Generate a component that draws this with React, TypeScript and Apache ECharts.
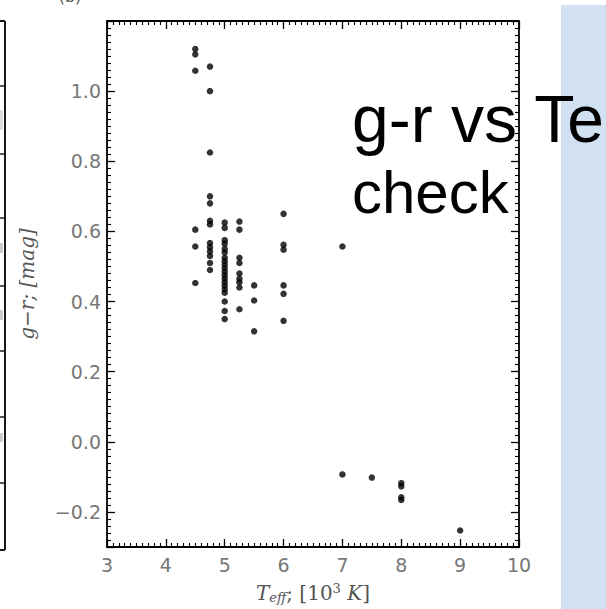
import React, { useEffect, useRef } from "react";
import * as echarts from "echarts";

// Effective temperature (10^3 K) and g−r colour (mag) of each star
const tempK = [
  4.5, 4.5, 4.5, 4.5, 4.5, 4.5,
  4.75, 4.75, 4.75, 4.75, 4.75, 4.75, 4.75, 4.75, 4.75, 4.75, 4.75, 4.75, 4.75,
  5, 5, 5, 5, 5, 5, 5, 5, 5, 5, 5, 5, 5, 5, 5, 5, 5, 5, 5, 5,
  5.25, 5.25, 5.25, 5.25, 5.25, 5.25, 5.25, 5.25, 5.25,
  5.5, 5.5, 5.5,
  6, 6, 6, 6, 6, 6,
  7, 7,
  7.5,
  8, 8, 8, 8,
  9,
];
const grMag = [
  1.12, 1.105, 1.058, 0.605, 0.557, 0.453,
  1.07, 1.0, 0.825, 0.7, 0.68, 0.63, 0.62, 0.567, 0.555, 0.543, 0.53, 0.51, 0.49,
  0.625, 0.61, 0.575, 0.565, 0.55, 0.54, 0.525, 0.515, 0.505, 0.495, 0.485, 0.475, 0.465, 0.455, 0.445, 0.435, 0.425, 0.4, 0.373, 0.35,
  0.628, 0.605, 0.525, 0.51, 0.48, 0.465, 0.455, 0.44, 0.378,
  0.446, 0.403, 0.315,
  0.65, 0.562, 0.548, 0.446, 0.422, 0.345,
  0.557, -0.093,
  -0.102,
  -0.118, -0.127, -0.158, -0.166,
  -0.253,
];

const xRange = [3, 10];
const yRange = [-0.3, 1.2];

// Tick rows of the neighbouring panel's right edge
const neighbourTicks = [86, 154, 218, 286, 351, 417, 483];

const AXIS_COLOR = "#000";
const LABEL_COLOR = "#777";
const NAME_COLOR = "#555";

function fmtY(v: number): string {
  const k = v / 0.2;
  if (Math.abs(k - Math.round(k)) > 1e-6) return "";
  return v.toFixed(1).replace("-", "\u2212");
}

function baseAxis(show: boolean) {
  return {
    axisLine: { show: true, onZero: false, lineStyle: { color: AXIS_COLOR, width: 1.8 } },
    axisTick: { show: true, inside: true, length: 8, lineStyle: { color: AXIS_COLOR, width: 1.3 } },
    minorTick: { show: true, splitNumber: 10, length: 4, lineStyle: { color: AXIS_COLOR, width: 1.1 } },
    splitLine: { show: false },
    minorSplitLine: { show: false },
    axisLabel: {
      show,
      color: LABEL_COLOR,
      fontFamily: "DejaVu Sans",
      fontSize: 19,
    },
  };
}

export default function App() {
  const ref = useRef<HTMLDivElement>(null);

  useEffect(() => {
    if (!ref.current) return;
    const chart = echarts.init(ref.current, undefined, { renderer: "svg" });
    const points = tempK.map((t, i) => [t, grMag[i]]);

    const neighbourGraphics: any[] = [
      { type: "line", shape: { x1: 5, y1: 21, x2: 5, y2: 550 }, style: { stroke: "#000", lineWidth: 1.8 } },
      { type: "line", shape: { x1: 0, y1: 21, x2: 5, y2: 21 }, style: { stroke: "#000", lineWidth: 1.8 } },
      { type: "line", shape: { x1: 0, y1: 550, x2: 5, y2: 550 }, style: { stroke: "#000", lineWidth: 1.8 } },
      ...neighbourTicks.map((y) => ({
        type: "line",
        shape: { x1: 0, y1: y, x2: 5, y2: y },
        style: { stroke: "#000", lineWidth: 1.3 },
      })),
      { type: "rect", shape: { x: 0, y: 110, width: 3, height: 20 }, style: { fill: "#ddd" } },
      { type: "rect", shape: { x: 0, y: 243, width: 3, height: 10 }, style: { fill: "#ccc" } },
      { type: "rect", shape: { x: 0, y: 310, width: 3, height: 10 }, style: { fill: "#ccc" } },
      { type: "rect", shape: { x: 0, y: 433, width: 3, height: 9 }, style: { fill: "#ccc" } },
    ];

    chart.setOption({
      animation: false,
      backgroundColor: "#fff",
      grid: { left: 107, top: 21, width: 412, height: 529, containLabel: false },
      xAxis: [
        {
          ...baseAxis(true),
          type: "value",
          position: "bottom",
          min: xRange[0],
          max: xRange[1],
          interval: 1,
          axisLabel: { ...baseAxis(true).axisLabel, margin: 8 },
          name: "{i|T}{sub|eff}{n|; [10}{sup|3}{i| K}{n|]}",
          nameLocation: "middle",
          nameGap: 34,
          nameTextStyle: {
            rich: {
              i: { fontFamily: "DejaVu Serif", fontStyle: "italic", fontSize: 20, color: NAME_COLOR },
              n: { fontFamily: "DejaVu Serif", fontSize: 20, color: NAME_COLOR },
              sub: { fontFamily: "DejaVu Serif", fontStyle: "italic", fontSize: 13, color: NAME_COLOR, padding: [10, 0, 0, 0] },
              sup: { fontFamily: "DejaVu Serif", fontSize: 13, color: NAME_COLOR, padding: [0, 0, 8, 0] },
            },
          },
        },
        {
          ...baseAxis(false),
          type: "value",
          position: "top",
          min: xRange[0],
          max: xRange[1],
          interval: 1,
        },
      ],
      yAxis: [
        {
          ...baseAxis(true),
          type: "value",
          position: "left",
          min: yRange[0],
          max: yRange[1],
          splitNumber: 7,
          axisLabel: {
            ...baseAxis(true).axisLabel,
            margin: 6,
            showMaxLabel: false,
            showMinLabel: false,
            formatter: fmtY,
          },
          name: "g\u2212r; [mag]",
          nameLocation: "middle",
          nameRotate: 90,
          nameGap: 70,
          nameTextStyle: {
            fontFamily: "DejaVu Serif",
            fontStyle: "italic",
            fontSize: 20,
            color: NAME_COLOR,
          },
        },
        {
          ...baseAxis(false),
          type: "value",
          position: "right",
          min: yRange[0],
          max: yRange[1],
          splitNumber: 7,
        },
      ],
      series: [
        {
          type: "scatter",
          xAxisIndex: 0,
          yAxisIndex: 0,
          data: points,
          symbol: "circle",
          symbolSize: 6.5,
          itemStyle: { color: "#000" },
        },
      ],
      graphic: [
        ...neighbourGraphics,
        {
          type: "text",
          x: 70,
          y: 4,
          style: { text: "(b)", fontFamily: "DejaVu Sans", fontSize: 16, fill: NAME_COLOR, align: "center", verticalAlign: "bottom" },
        },
        {
          type: "rect",
          shape: { x: 561, y: 5, width: 45, height: 604 },
          style: { fill: "#d2e1f1" },
          z: 1,
        },
        {
          type: "text",
          x: 352,
          y: 119,
          z: 10,
          style: { text: "g-r vs Te", fontFamily: "Liberation Sans", fontSize: 66, fill: "#000", verticalAlign: "middle" },
        },
        {
          type: "text",
          x: 352,
          y: 192,
          z: 10,
          style: { text: "check", fontFamily: "Liberation Sans", fontSize: 60, fill: "#000", verticalAlign: "middle" },
        },
      ],
    });

    return () => chart.dispose();
  }, []);

  return (
    <div
      ref={ref}
      style={{ position: "absolute", left: 0, top: 0, width: 606, height: 609, background: "#fff" }}
    />
  );
}
